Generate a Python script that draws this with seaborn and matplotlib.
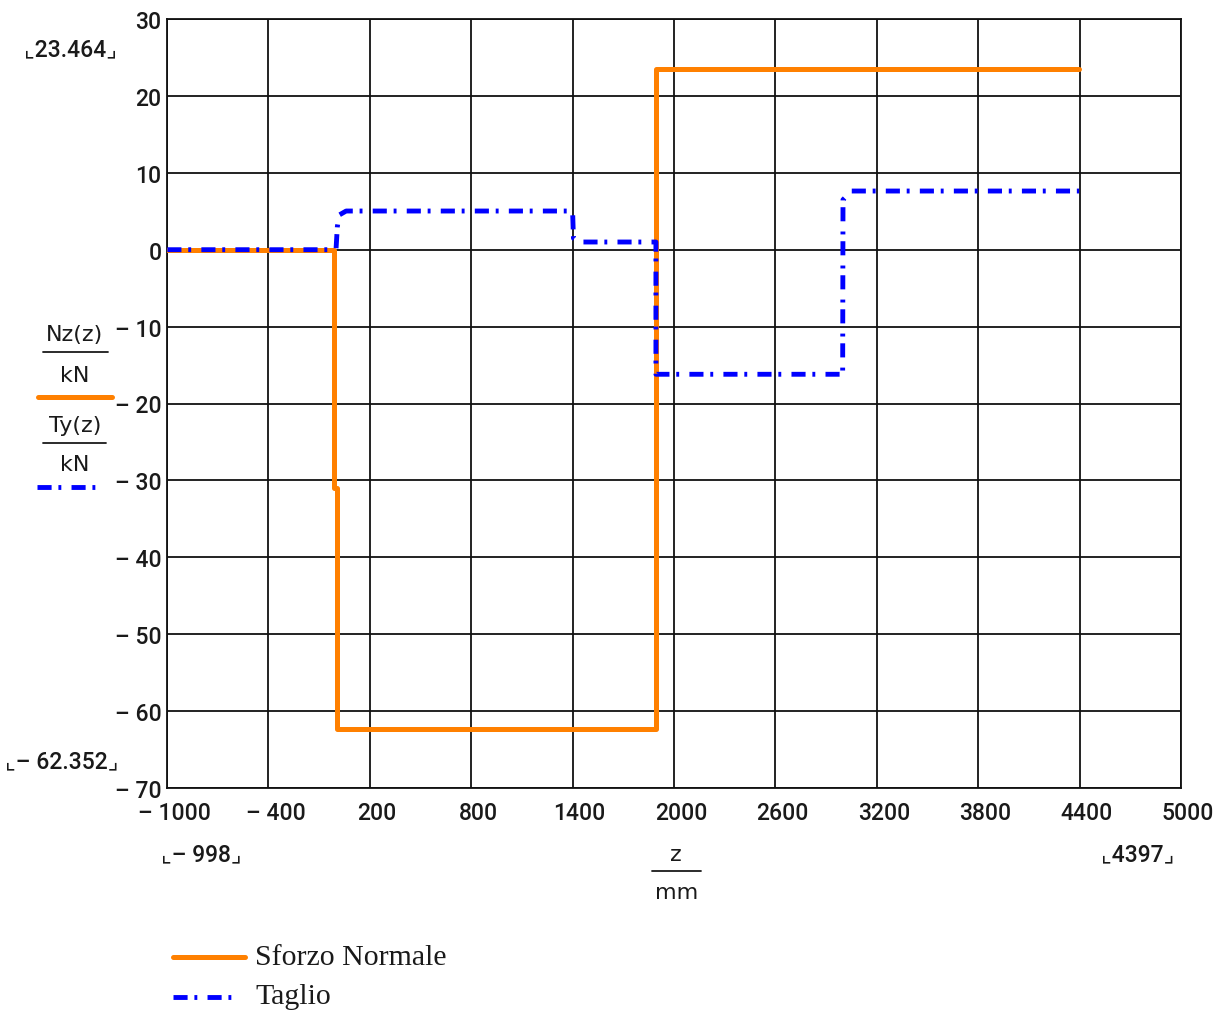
import numpy as np
import matplotlib
matplotlib.use("Agg")
import matplotlib.pyplot as plt
import matplotlib.transforms as mtransforms
from matplotlib.lines import Line2D
import seaborn as sns

# Sforzo normale Nz(z) [kN] lungo l'asse z [mm]
z_nz = [-998, -12, -12, 6, 6, 1893, 1893, 4397]
nz = [0.0, 0.0, -31.0, -31.0, -62.352, -62.352, 23.464, 23.464]

# Taglio Ty(z) [kN]
z_ty = [-998, 0, 8, 18, 60, 1400, 1405, 1440, 1893, 1893, 1920, 2998, 3000, 3050, 4397]
ty = [0.0, 0.0, 3.0, 4.5, 5.03, 5.03, 1.5, 1.0, 1.0, -16.2, -16.2, -16.2, 6.5, 7.63, 7.63]

x_ticks = list(range(-1000, 5001, 600))
y_ticks = list(range(-70, 31, 10))

ORANGE = "#FF8000"
BLUE = "#0000FF"
NARROW = ["Roboto", "DejaVu Sans"]
TXT = "#1a1a1a"
TICK_FS = 16.5


def num_label(v):
    # stile Mathcad: "– 400"
    return f"\u2013 {abs(v)}" if v < 0 else f"{v}"


def bracket(v):
    return f"\u231e{num_label(v)}\u231f"


sns.set_theme(style="white")
plt.rcParams['font.family'] = ["DejaVu Sans"]

W, H = 1220, 1012
fig = plt.figure(figsize=(W / 100, H / 100), dpi=100)
ax = fig.add_axes([167 / W, 1 - 789 / H, (1181 - 167) / W, (789 - 20) / H])


def px(x, y):
    return x / W, 1 - y / H


sns.lineplot(x=z_nz, y=nz, ax=ax, estimator=None, sort=False,
             color=ORANGE, linewidth=3.6, zorder=3)
blue_ls = (0, (2.9, 1.4, 0.6, 2.1))
sns.lineplot(x=z_ty, y=ty, ax=ax, estimator=None, sort=False,
             color=BLUE, linewidth=3.5, linestyle=blue_ls, zorder=4)

ax.set_xlim(-1000, 5000)
ax.set_ylim(-70, 30)
ax.set_xticks(x_ticks)
ax.set_yticks(y_ticks)
ax.set_xticklabels([num_label(v) for v in x_ticks], family=NARROW,
                   fontsize=TICK_FS, fontweight="medium")
ax.set_yticklabels([num_label(v) for v in y_ticks], family=NARROW,
                   fontsize=TICK_FS, fontweight="medium")
ax.tick_params(length=0, pad=4, colors=TXT)
ax.tick_params(axis="x", pad=9)
ax.grid(True, color="#111111", linewidth=1.3)
for s in ax.spines.values():
    s.set_color("#111111")
    s.set_linewidth(1.3)
ax.set_xlabel("")
ax.set_ylabel("")

off = mtransforms.ScaledTranslation(7 / 100, 0, fig.dpi_scale_trans)
for lbl in ax.get_xticklabels():
    lbl.set_transform(lbl.get_transform() + off)

# limiti dei dati (etichette tra parentesi ad angolo)
lim_kw = dict(ha="center", va="center", family=NARROW, fontsize=TICK_FS,
              fontweight="medium", color=TXT)
fig.text(*px(70, 50), bracket(max(nz)), **lim_kw)
fig.text(*px(62, 762), bracket(min(nz)), **lim_kw)
fig.text(*px(201, 855), bracket(z_nz[0]), **lim_kw)
fig.text(*px(1138, 855), bracket(z_nz[-1]), **lim_kw)

# etichetta asse x: z / mm
fig.text(*px(676, 855), "z", ha="center", va="center", fontsize=16, color=TXT)
fig.add_artist(Line2D([652 / W, 701 / W], [1 - 872 / H] * 2, color=TXT, lw=1.3))
fig.text(*px(677, 893), "mm", ha="center", va="center", fontsize=16, color=TXT)

# etichetta asse y con campioni di linea
fig.text(*px(75, 335), "Nz(z)", ha="center", va="center", fontsize=16, color=TXT)
fig.add_artist(Line2D([43 / W, 108 / W], [1 - 353 / H] * 2, color=TXT, lw=1.3))
fig.text(*px(75, 376), "kN", ha="center", va="center", fontsize=16, color=TXT)
fig.add_artist(Line2D([38 / W, 112 / W], [1 - 398 / H] * 2, color=ORANGE, lw=3.6,
                      solid_capstyle="round"))
fig.text(*px(75, 426), "Ty(z)", ha="center", va="center", fontsize=16, color=TXT)
fig.add_artist(Line2D([43 / W, 106 / W], [1 - 444 / H] * 2, color=TXT, lw=1.3))
fig.text(*px(75, 465), "kN", ha="center", va="center", fontsize=16, color=TXT)
fig.add_artist(Line2D([37 / W, 100 / W], [1 - 488 / H] * 2, color=BLUE, lw=3.5,
                      linestyle=blue_ls))

# legenda in basso
fig.add_artist(Line2D([173 / W, 245 / W], [1 - 958 / H] * 2, color=ORANGE, lw=3.6,
                      solid_capstyle="round"))
fig.text(*px(255, 958), "Sforzo Normale", ha="left", va="center",
         family="Liberation Serif", fontsize=21.5, color=TXT)
fig.add_artist(Line2D([173 / W, 237 / W], [1 - 998 / H] * 2, color=BLUE, lw=3.5,
                      linestyle=blue_ls))
fig.text(*px(255, 997), "Taglio", ha="left", va="center",
         family="Liberation Serif", fontsize=21.5, color=TXT)

fig.savefig("out.png", dpi=100)
